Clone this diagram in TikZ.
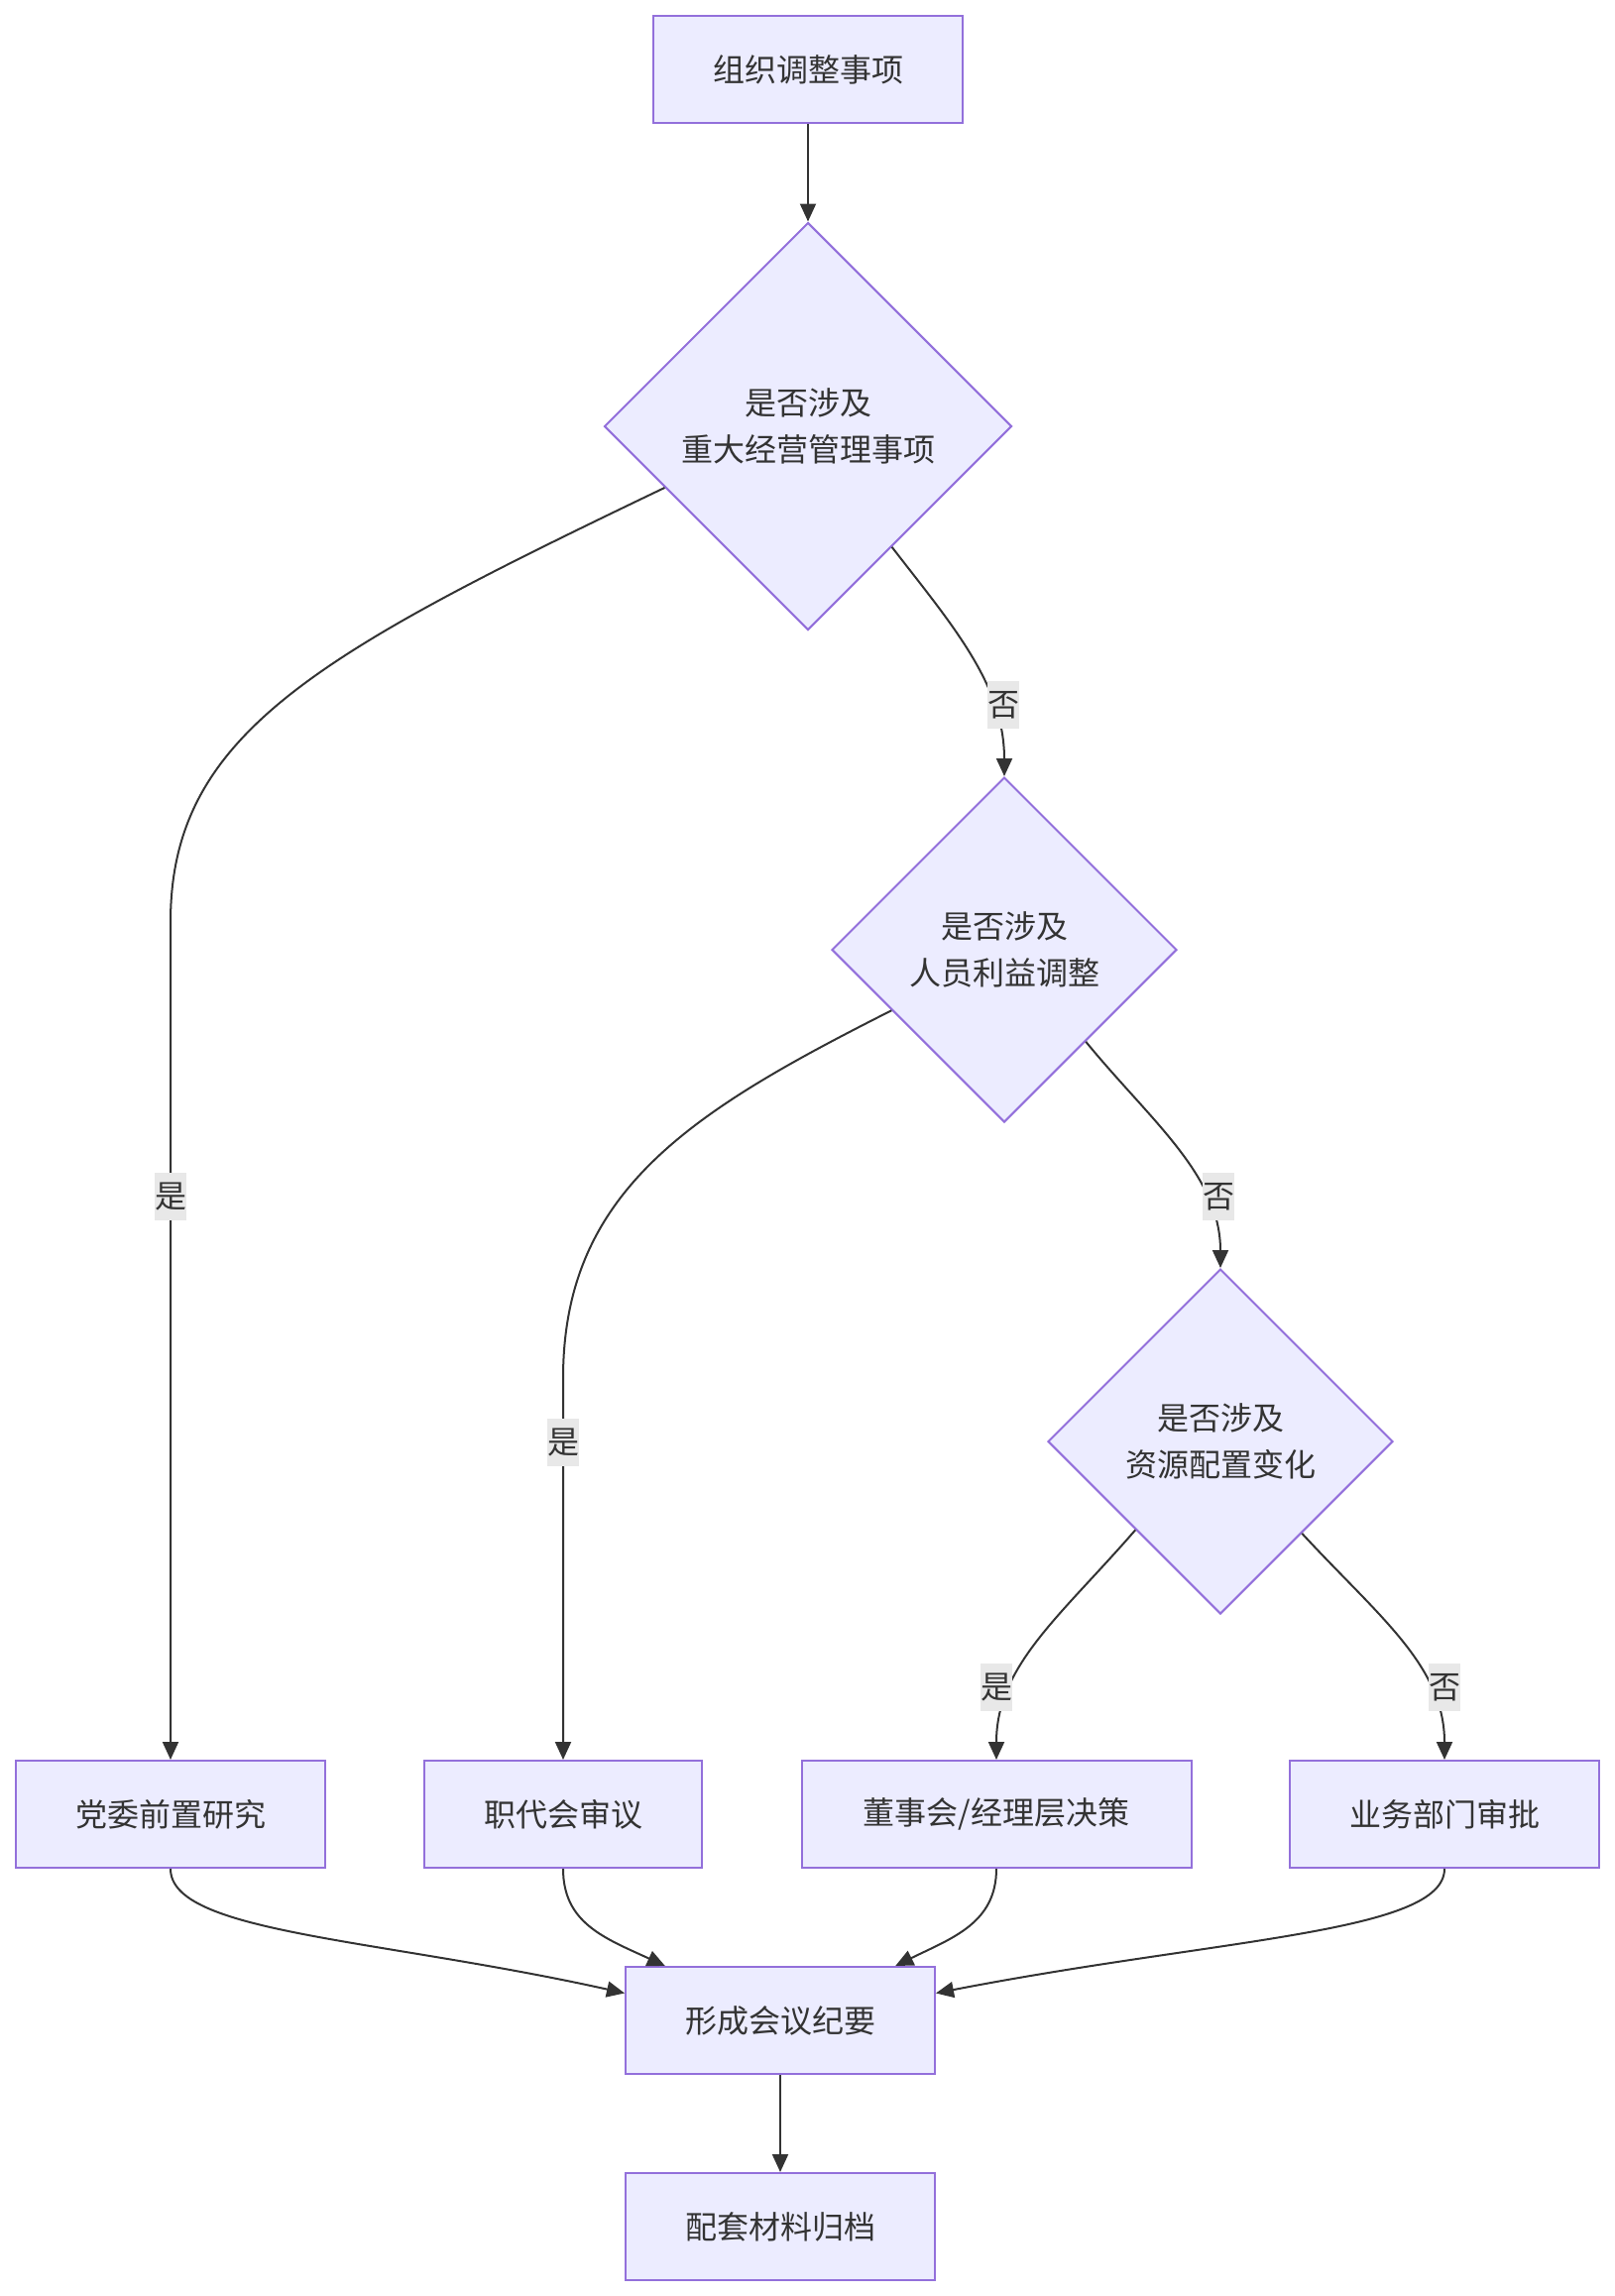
\documentclass[tikz,border=0pt]{standalone}
\usepackage{fontspec}
\setmainfont{Noto Sans CJK SC}
\usetikzlibrary{shapes.geometric,arrows.meta,calc}
\definecolor{boxfill}{HTML}{ECECFF}
\definecolor{boxline}{HTML}{9370DB}
\definecolor{ink}{HTML}{333333}
\definecolor{lblbg}{HTML}{E8E8E8}
\begin{document}
\begin{tikzpicture}[x=1pt,y=-1pt,
  proc/.style={draw=boxline, fill=boxfill, line width=2pt, minimum height=108pt,
    inner sep=0pt, text=ink, font=\fontsize{32}{47}\selectfont},
  dec/.style={draw=boxline, fill=boxfill, line width=2pt, diamond, aspect=1,
    inner sep=0pt, align=center, text=ink, font=\fontsize{32}{47}\selectfont},
  lbl/.style={fill=lblbg, text=ink, inner sep=0pt, minimum width=32pt,
    minimum height=48pt, font=\fontsize{32}{40}\selectfont},
  arr/.style={draw=ink, line width=2pt, -{Triangle[length=18pt,width=16pt]}}
]
\useasboundingbox (0,0) rectangle (1628,2316);

\node[proc, minimum width=312pt] (start) at (815,70) {组织调整事项};
\node[dec, minimum width=411pt, minimum height=411pt] (d1) at (815,430) {是否涉及\\重大经营管理事项};
\node[dec, minimum width=348pt, minimum height=348pt] (d2) at (1013,958) {是否涉及\\人员利益调整};
\node[dec, minimum width=348pt, minimum height=348pt] (d3) at (1231,1454) {是否涉及\\资源配置变化};

\node[proc, minimum width=312pt] (dw) at (172,1830) {党委前置研究};
\node[proc, minimum width=280pt] (zd) at (568,1830) {职代会审议};
\node[proc, minimum width=393pt] (ds) at (1005,1830) {董事会/经理层决策};
\node[proc, minimum width=312pt] (yw) at (1457,1830) {业务部门审批};

\node[proc, minimum width=312pt] (xc) at (787,2038) {形成会议纪要};
\node[proc, minimum width=312pt] (pt) at (787,2246) {配套材料归档};

% start points on diamond edges
\coordinate (d1l) at ($(d1.west)!0.30!(d1.south)$);
\coordinate (d1r) at ($(d1.east)!0.59!(d1.south)$);
\coordinate (d2l) at ($(d2.west)!0.35!(d2.south)$);
\coordinate (d2r) at ($(d2.east)!0.53!(d2.south)$);
\coordinate (d3l) at ($(d3.west)!0.51!(d3.south)$);
\coordinate (d3r) at ($(d3.east)!0.53!(d3.south)$);
\coordinate (xcl) at ($(xc.north west)!0.25!(xc.south west)$);
\coordinate (xcr) at ($(xc.north east)!0.25!(xc.south east)$);
\coordinate (xct1) at ($(xc.north west)!0.13!(xc.north east)$);
\coordinate (xct2) at ($(xc.north west)!0.87!(xc.north east)$);
\coordinate (v1) at (172,930);
\coordinate (v2) at (568,1390);

\draw[arr] (start.south) -- (d1.north);
\draw[arr] (d1l) .. controls (320,660) and (172,740) .. (v1) -- (dw.north);
\draw[arr] (d1r) .. controls (960,630) and (1013,690) .. (d2.north);
\draw[arr] (d2l) .. controls (700,1120) and (568,1200) .. (v2) -- (zd.north);
\draw[arr] (d2r) .. controls (1160,1130) and (1231,1185) .. (d3.north);
\draw[arr] (d3l) .. controls (1070,1630) and (1005,1680) .. (ds.north);
\draw[arr] (d3r) .. controls (1390,1630) and (1457,1680) .. (yw.north);

\draw[arr] (dw.south) .. controls (172,1950) and (380,1955) .. (xcl);
\draw[arr] (zd.south) .. controls (568,1940) and (610,1955) .. (xct1);
\draw[arr] (ds.south) .. controls (1005,1940) and (960,1955) .. (xct2);
\draw[arr] (yw.south) .. controls (1457,1950) and (1230,1955) .. (xcr);
\draw[arr] (xc.south) -- (pt.north);

\node[lbl] (l1) at (172,1207) {是};
\node[lbl] (l2) at (1012,711) {否};
\node[lbl] (l3) at (568,1455) {是};
\node[lbl] (l4) at (1229,1207) {否};
\node[lbl] (l5) at (1005,1702) {是};
\node[lbl] (l6) at (1457,1702) {否};
\end{tikzpicture}
\end{document}
